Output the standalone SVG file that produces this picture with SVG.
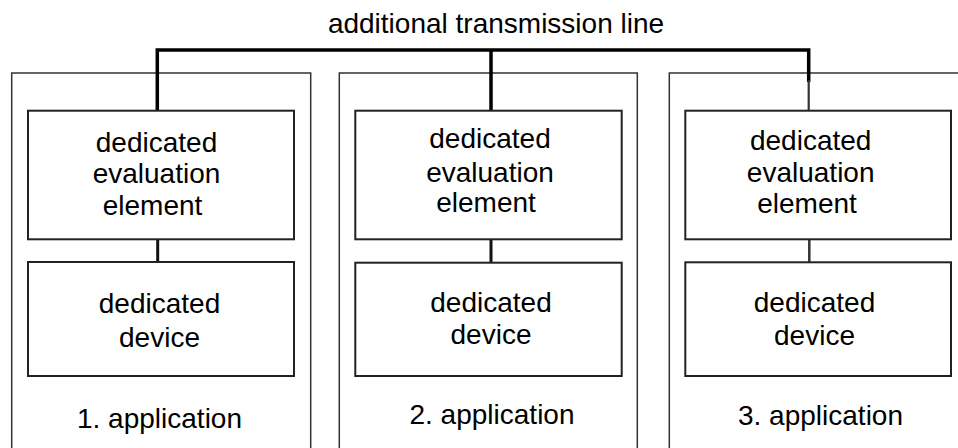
<svg xmlns="http://www.w3.org/2000/svg" width="958" height="448" viewBox="0 0 958 448">
  <style>
    .outer { fill: none; stroke: #333; stroke-width: 1.5; }
    .inner { fill: #fff; stroke: #222; stroke-width: 2; }
    .bus { fill: none; stroke: #000; stroke-width: 3.5; stroke-linejoin: miter; }
    .link { fill: none; stroke: #111; stroke-width: 3; }
    text { font-family: "Liberation Sans", Arial, sans-serif; font-size: 28px; fill: #000; text-anchor: middle; }
  </style>
  <rect width="958" height="448" fill="#fff"/>

  <!-- application frames -->
  <g id="app1">
    <rect class="outer" x="11.7" y="73" width="299" height="400"/>
    <text x="159.5" y="428">1. application</text>
  </g>
  <g id="app2">
    <rect class="outer" x="339.3" y="73" width="298" height="400"/>
    <text x="492" y="424">2. application</text>
  </g>
  <g id="app3">
    <rect class="outer" x="669.3" y="73" width="320" height="400"/>
    <text x="820.5" y="425">3. application</text>
  </g>

  <!-- connectors -->
  <g id="connectors">
    <path class="bus" d="M157.3,110 V50 H808.7 V82"/>
    <path class="bus" d="M491,50 V110"/>
    <path d="M808.7,80 V110" fill="none" stroke="#333" stroke-width="2.2"/>
    <line class="link" x1="157.7" y1="239" x2="157.7" y2="262"/>
    <line class="link" x1="491" y1="239" x2="491" y2="262"/>
    <line x1="809.3" y1="239" x2="809.3" y2="262" stroke="#333" stroke-width="2.5"/>
  </g>

  <text id="bus-label" x="496" y="33.3">additional transmission line</text>

  <!-- evaluation elements -->
  <g id="eval1">
    <rect class="inner" x="28" y="110.7" width="266" height="128.6"/>
    <text x="156.5" y="151.7">dedicated</text>
    <text x="156.5" y="183.3">evaluation</text>
    <text x="152.5" y="215">element</text>
  </g>
  <g id="eval2">
    <rect class="inner" x="355.3" y="110.7" width="266.4" height="128.6"/>
    <text x="490" y="148.3">dedicated</text>
    <text x="490" y="181.7">evaluation</text>
    <text x="486" y="212.3">element</text>
  </g>
  <g id="eval3">
    <rect class="inner" x="685.3" y="110.7" width="265.7" height="128.6"/>
    <text x="810.7" y="150">dedicated</text>
    <text x="810.7" y="181.7">evaluation</text>
    <text x="807" y="213.3">element</text>
  </g>

  <!-- devices -->
  <g id="device1">
    <rect class="inner" x="28" y="262" width="266" height="114"/>
    <text x="159.5" y="313">dedicated</text>
    <text x="159.5" y="347">device</text>
  </g>
  <g id="device2">
    <rect class="inner" x="355.3" y="262.7" width="266.4" height="113.3"/>
    <text x="491" y="311.7">dedicated</text>
    <text x="491" y="344">device</text>
  </g>
  <g id="device3">
    <rect class="inner" x="685.3" y="262.3" width="265.7" height="113.7"/>
    <text x="814.5" y="312">dedicated</text>
    <text x="814.5" y="345">device</text>
  </g>
</svg>
